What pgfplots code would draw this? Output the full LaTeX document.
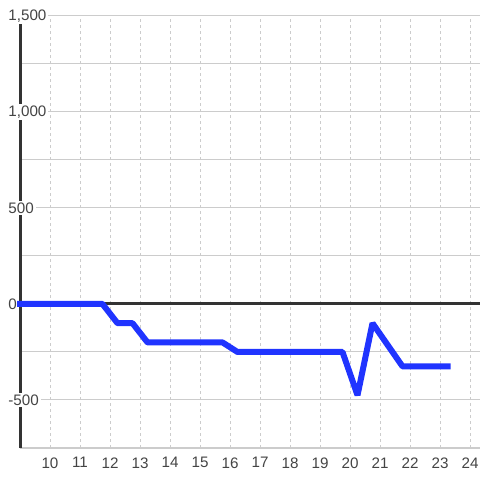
\documentclass[border=0pt]{standalone}
\usepackage{pgfplots}
\pgfplotsset{compat=1.18}
\usepackage{fontspec}
\setmainfont{Liberation Sans}
\definecolor{lineblue}{RGB}{32,52,255}
\definecolor{axisdark}{RGB}{51,51,51}
\definecolor{gridgray}{RGB}{204,204,204}
\definecolor{labelgray}{RGB}{68,68,68}
\begin{document}
\begin{tikzpicture}[x=1pt,y=1pt]
\useasboundingbox (0,0) rectangle (240,240);
\begin{axis}[
  at={(10pt,16pt)}, anchor=south west,
  scale only axis, width=230pt, height=216pt,
  xmin=9, xmax=24.3333, ymin=-750, ymax=1500,
  axis x line*=bottom, axis y line*=left,
  x axis line style={draw=none},
  y axis line style={draw=axisdark, line width=1.5pt, -},
  major tick length=0pt, minor tick length=0pt,
  xtick={10,...,24},
  ytick={-500,0,500,1000,1500},
  minor ytick={-750,-250,250,750,1250},
  xmajorgrids, ymajorgrids, yminorgrids,
  x grid style={gridgray, line width=0.5pt, dash pattern=on 1.5pt off 1.5pt},
  y grid style={gridgray, line width=0.5pt},
  minor grid style={gridgray, line width=0.5pt, solid},
  /pgf/number format/assume math mode=true,
  /pgf/number format/1000 sep={,},
  tick label style={font=\fontsize{7.6}{9}\selectfont, text=labelgray},
  yticklabel style={anchor=west, xshift=-7pt, fill=white, inner sep=1pt},
  xticklabel style={anchor=north, yshift=-1.2pt},
  clip=false,
]
\draw[axisdark, line width=1.5pt] (axis cs:9,0) -- (axis cs:24.3333,0);
\addplot[lineblue, line width=3pt, line cap=rect, line join=bevel] coordinates {
(9,0) (11.75,0) (12.25,-100) (12.75,-100) (13.25,-200) (15.75,-200)
(16.25,-250) (19.75,-250) (20.25,-475) (20.75,-100) (21.75,-325) (23.25,-325)
};
\end{axis}
\end{tikzpicture}
\end{document}
